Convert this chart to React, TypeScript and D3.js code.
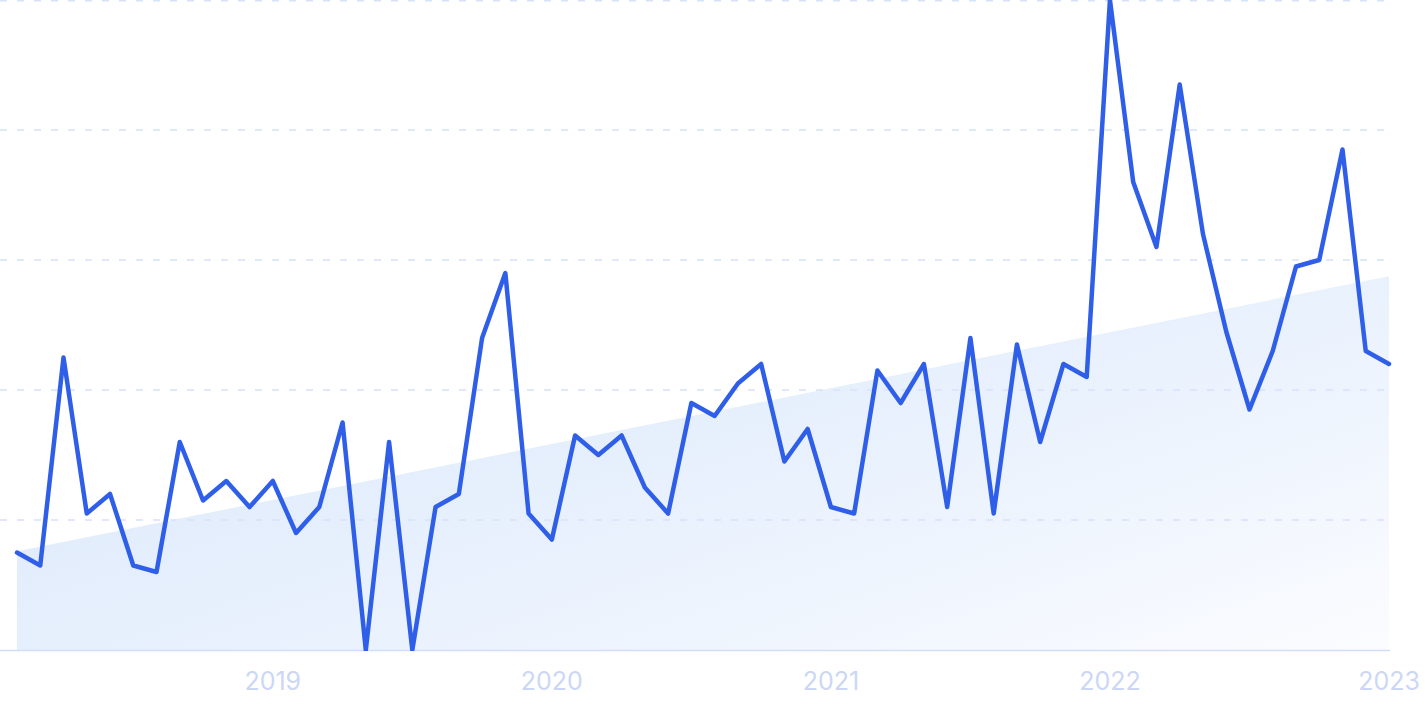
import React from "react";
import * as d3 from "d3";

const months: string[] = [
  "2018-02","2018-03","2018-04","2018-05","2018-06","2018-07","2018-08","2018-09","2018-10","2018-11","2018-12",
  "2019-01","2019-02","2019-03","2019-04","2019-05","2019-06","2019-07","2019-08","2019-09","2019-10","2019-11","2019-12",
  "2020-01","2020-02","2020-03","2020-04","2020-05","2020-06","2020-07","2020-08","2020-09","2020-10","2020-11","2020-12",
  "2021-01","2021-02","2021-03","2021-04","2021-05","2021-06","2021-07","2021-08","2021-09","2021-10","2021-11","2021-12",
  "2022-01","2022-02","2022-03","2022-04","2022-05","2022-06","2022-07","2022-08","2022-09","2022-10","2022-11","2022-12",
  "2023-01",
];

const values: number[] = [
  15, 13, 45, 21, 24, 13, 12, 32, 23, 26, 22,
  26, 18, 22, 35, 0, 32, 0, 22, 24, 48, 58, 21,
  17, 33, 30, 33, 25, 21, 38, 36, 41, 44, 29, 34,
  22, 21, 43, 38, 44, 22, 48, 21, 47, 32, 44, 42,
  100, 72, 62, 87, 64, 49, 37, 46, 59, 60, 77, 46,
  44,
];

// trend line values at first and last month
const trendValues: number[] = [15.2, 57.5];

const tickLabels: string[] = ["2019", "2020", "2021", "2022", "2023"];
const gridValues: number[] = [0, 20, 40, 60, 80, 100];

const W = 1425;
const H = 712;

export default function App() {
  const x = d3.scaleLinear().domain([0, months.length - 1]).range([17, 1389]);
  const y = d3.scaleLinear().domain([0, 100]).range([650, 0]);

  const line = d3
    .line<number>()
    .x((_, i) => x(i))
    .y((d) => y(d));

  const trendData = [
    { i: 0, v: trendValues[0] },
    { i: months.length - 1, v: trendValues[1] },
  ];
  const area = d3
    .area<{ i: number; v: number }>()
    .x((d) => x(d.i))
    .y0(y(0))
    .y1((d) => y(d.v));

  const tickIdx = tickLabels.map((t) => months.indexOf(`${t}-01`));

  return (
    <div style={{ position: "absolute", left: 0, top: 0, width: W, height: H, background: "#fff" }}>
      <svg width={W} height={H} style={{ display: "block" }}>
        <defs>
          <linearGradient id="trendGrad" x1="0" y1="0.2" x2="1" y2="1">
            <stop offset="0%" stopColor="#dbe8fb" />
            <stop offset="55%" stopColor="#eaf2fd" />
            <stop offset="100%" stopColor="#fbfcff" />
          </linearGradient>
          <clipPath id="plotClip">
            <rect x={0} y={0} width={W} height={y(0) + 1} />
          </clipPath>
        </defs>
        <path d={area(trendData) || ""} fill="url(#trendGrad)" />
        {gridValues.map((g) =>
          g === 0 ? null : (
            <line
              key={g}
              x1={0}
              x2={1389}
              y1={Math.max(0.75, y(g))}
              y2={Math.max(0.75, y(g))}
              stroke="#d8e1fc"
              strokeWidth={1.5}
              strokeDasharray="7 10"
            />
          )
        )}
        <line x1={0} x2={1390} y1={y(0) + 0.5} y2={y(0) + 0.5} stroke="#d1ddfb" strokeWidth={1.5} />
        <g clipPath="url(#plotClip)">
          <path
            d={line(values) || ""}
            fill="none"
            stroke="#2f5fe8"
            strokeWidth={4.5}
            strokeLinejoin="round"
            strokeLinecap="round"
          />
        </g>
        {tickLabels.map((t, k) => (
          <text
            key={t}
            x={x(tickIdx[k])}
            y={681}
            textAnchor="middle"
            dominantBaseline="central"
            fontFamily="Inter, 'Noto Sans', sans-serif"
            fontSize={25}
            fill="#cbd7f4"
          >
            {t}
          </text>
        ))}
      </svg>
    </div>
  );
}
